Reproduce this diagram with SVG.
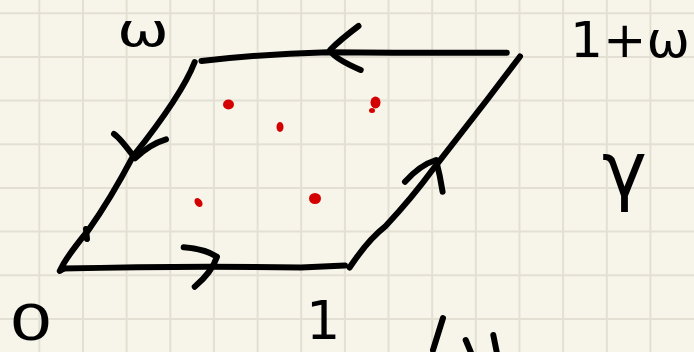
<svg xmlns="http://www.w3.org/2000/svg" width="694" height="352" viewBox="0 0 694 352">
<style>
.grid{stroke:#e3e0d3;stroke-width:2;fill:none}
.ink{stroke:#000;stroke-width:6;fill:none;stroke-linecap:round;stroke-linejoin:round}
.dot{fill:#d40000}
.lbl{font-family:"DejaVu Sans",sans-serif;fill:#000}
</style>
<rect width="694" height="352" fill="#f7f5ea"/>
<g id="grid" class="grid">
<path d="M39.3 0V352M83 0V352M126.6 0V352M170.3 0V352M213.9 0V352M257.6 0V352M301.2 0V352M344.9 0V352M388.5 0V352M432.2 0V352M475.8 0V352M519.5 0V352M563.1 0V352M606.8 0V352M650.4 0V352"/>
<path d="M0 13.3H694M0 57H694M0 100.6H694M0 144.3H694M0 187.9H694M0 231.6H694M0 275.2H694M0 318.9H694"/>
</g>
<g id="connectors" class="ink">
<path id="edge-bottom" d="M62 268.5 Q140 267 208 266.7 L301 267.5 L345 265.5"/>
<path id="edge-right" d="M349.6 267.5 Q368 240 385 226.7 Q412 198 433.7 168.3 L486.9 100 L520 56.5"/>
<path id="edge-top" d="M201.4 61 Q260 54 327.5 52.2 Q420 53 506.8 52.7"/>
<path id="edge-left" d="M194.7 62 Q182 95 132.8 156.7 Q110 200 88.5 230 Q72 250 64 263 L59.8 271 L64 268.5"/>
<path d="M86 229 L87 239"/>
<path id="arrow-top" d="M358.5 26 Q340 40 330 50 Q333 58 360.7 70"/>
<path id="arrow-left" d="M114 134 Q120 138 135 158.3 Q150 144 166 139.3"/>
<path id="arrow-bottom" d="M183.7 247.3 Q205 249 217 256.7 Q212 272 194.7 286.7"/>
<path id="arrow-right" d="M405 181.7 Q420 165 436 160 Q440 175 442.6 191.7"/>
</g>
<g id="dots" class="dot">
<ellipse cx="228.5" cy="104.5" rx="5.5" ry="5"/>
<ellipse cx="375.5" cy="102.5" rx="5" ry="6"/>
<ellipse cx="372" cy="110.5" rx="3" ry="2.5"/>
<ellipse cx="280" cy="127" rx="3.5" ry="5"/>
<ellipse cx="198.5" cy="202.5" rx="3.5" ry="5" transform="rotate(-35 198.5 202.5)"/>
<ellipse cx="315" cy="198.5" rx="6" ry="5.5"/>
</g>
<g id="label-w"><text class="lbl" x="117" y="46" font-size="46" textLength="52" lengthAdjust="spacingAndGlyphs">ω</text></g>
<g id="label-1w"><text class="lbl" x="570" y="57" font-size="50" textLength="120" lengthAdjust="spacingAndGlyphs">1+ω</text></g>
<g id="label-0"><text class="lbl" x="9" y="340" font-size="50" textLength="44" lengthAdjust="spacingAndGlyphs">0</text></g>
<g id="label-1"><text class="lbl" x="306" y="339" font-size="54">1</text></g>
<g id="label-gamma"><text class="lbl" x="602" y="196" font-size="76">γ</text></g>
<g id="cutoff" class="ink">
<path d="M443 318 L433 350"/>
<path d="M465.7 340 L470.7 352"/>
<path d="M493.3 335 L496.7 352"/>
</g>
</svg>
